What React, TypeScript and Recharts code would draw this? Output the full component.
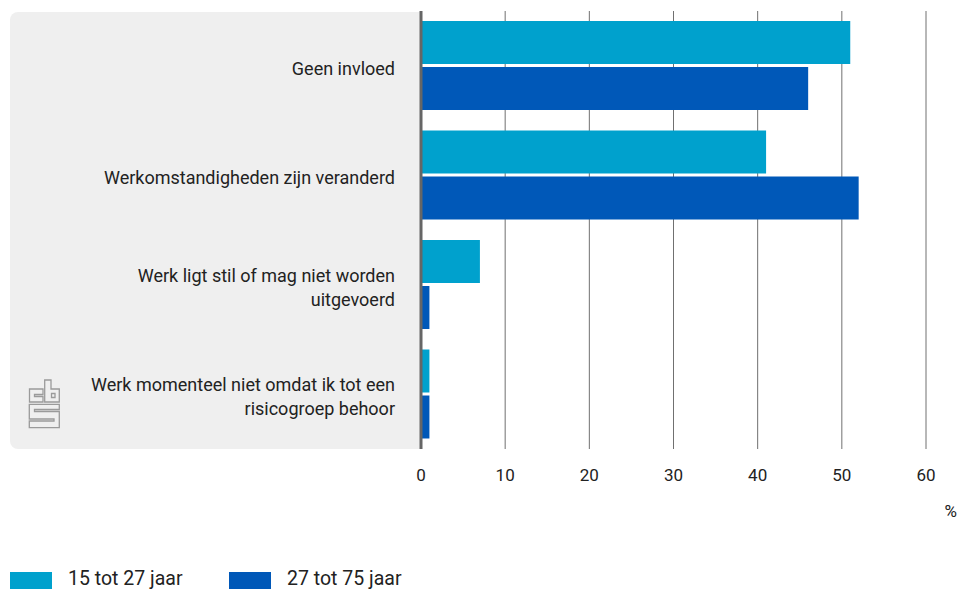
import React from 'react';
import { BarChart, Bar, XAxis, YAxis, CartesianGrid, Legend } from 'recharts';

const categories = [
  'Geen invloed',
  'Werkomstandigheden zijn veranderd',
  'Werk ligt stil of mag niet worden\nuitgevoerd',
  'Werk momenteel niet omdat ik tot een\nrisicogroep behoor',
];
const youngValues = [51, 41, 7, 1];
const olderValues = [46, 52, 1, 1];
const seriesNames = ['15 tot 27 jaar', '27 tot 75 jaar'];
const seriesColors = ['#00a1cd', '#0058b8'];
const xTicks = [0, 10, 20, 30, 40, 50, 60];
const unitLabel = '%';

const data = categories.map((name, i) => ({
  name,
  young: youngValues[i],
  older: olderValues[i],
}));

const FONT = 'Roboto, sans-serif';
const TEXT = '#222';

const CategoryTick = (props: any) => {
  const { x, y, payload } = props;
  const lines = String(payload.value).split('\n');
  const first = y + 9 - (lines.length - 1) * 12;
  return (
    <text x={x} y={first} textAnchor="end" fill={TEXT} fontSize={18} fontFamily={FONT}>
      {lines.map((l: string, i: number) => (
        <tspan key={i} x={x} y={first + i * 24}>
          {l}
        </tspan>
      ))}
    </text>
  );
};

const UnitLabel = (props: any) => {
  const vb = props.viewBox || {};
  return (
    <text x={vb.x + vb.width + 31} y={vb.y + 68} textAnchor="end" fill={TEXT} fontSize={17} fontFamily={FONT}>
      {unitLabel}
    </text>
  );
};

const LegendContent = () => (
  <div style={{ display: 'flex', height: 22, fontFamily: FONT }}>
    {seriesNames.map((n, i) => (
      <div key={n} style={{ width: 219, display: 'flex', alignItems: 'flex-start', marginLeft: i === 0 ? 10 : 0 }}>
        <div style={{ width: 42, height: 17, marginTop: 4, background: seriesColors[i] }} />
        <div style={{ marginLeft: 16, fontSize: 19.5, lineHeight: '20px', color: TEXT, paddingTop: 1, whiteSpace: 'nowrap' }}>{n}</div>
      </div>
    ))}
  </div>
);

const Logo = () => {
  const shapes = [
    'M43 389 L29.5 389 L29.5 402 L43 402 L43 396.5 L34.5 396.5 L34.5 394.5 L43 394.5 Z',
    'M44.7 380 L51 380 L51 389 L59.3 389 L59.3 402 L44.7 402 Z',
    'M51.5 393.5 L55 393.5 L55 397.5 L51.5 397.5 Z',
    'M29.3 404.3 L59.3 404.3 L59.3 409.5 L34.5 409.5 L34.5 411.5 L59.3 411.5 L59.3 427.7 L29.3 427.7 L29.3 421 L54 421 L54 419 L29.3 419 Z',
  ];
  return (
    <svg width={959} height={590} style={{ position: 'absolute', left: 0, top: 0, pointerEvents: 'none' }}>
      {shapes.map((d, i) => (
        <path key={i} d={d} fill="#efefef" stroke="#9a9a9a" strokeWidth={1.3} strokeLinejoin="miter" />
      ))}
    </svg>
  );
};

export default function App() {
  return (
    <div style={{ position: 'absolute', left: 0, top: 0, width: 959, height: 590, background: '#fff', fontFamily: FONT }}>
      <div
        style={{
          position: 'absolute',
          left: 10,
          top: 12,
          width: 410,
          height: 437,
          background: '#efefef',
          borderRadius: '8px 0 0 8px',
        }}
      />
      <Logo />
      <div style={{ position: 'absolute', left: 0, top: 0 }}>
        <BarChart
          width={959}
          height={590}
          layout="vertical"
          data={data}
          margin={{ top: 11, right: 33, left: 10, bottom: 0 }}
          barGap={3}
          barSize={43}
        >
          <CartesianGrid horizontal={false} vertical stroke="#707070" strokeWidth={1} />
          <XAxis
            type="number"
            domain={[0, 60]}
            ticks={xTicks}
            axisLine={false}
            tickLine={false}
            tickSize={0}
            tickMargin={20}
            height={119}
            tick={{ fill: TEXT, fontSize: 17, fontFamily: FONT }}
            label={<UnitLabel />}
          />
          <YAxis
            type="category"
            dataKey="name"
            width={411}
            axisLine={{ stroke: '#666', strokeWidth: 3 }}
            tickLine={false}
            tickSize={0}
            tickMargin={26}
            tick={<CategoryTick />}
            interval={0}
          />
          <Legend verticalAlign="bottom" align="left" content={<LegendContent />} wrapperStyle={{ left: 0, bottom: 0, width: 959 }} />
          <Bar dataKey="young" name={seriesNames[0]} fill={seriesColors[0]} isAnimationActive={false} />
          <Bar dataKey="older" name={seriesNames[1]} fill={seriesColors[1]} isAnimationActive={false} />
        </BarChart>
      </div>
    </div>
  );
}
